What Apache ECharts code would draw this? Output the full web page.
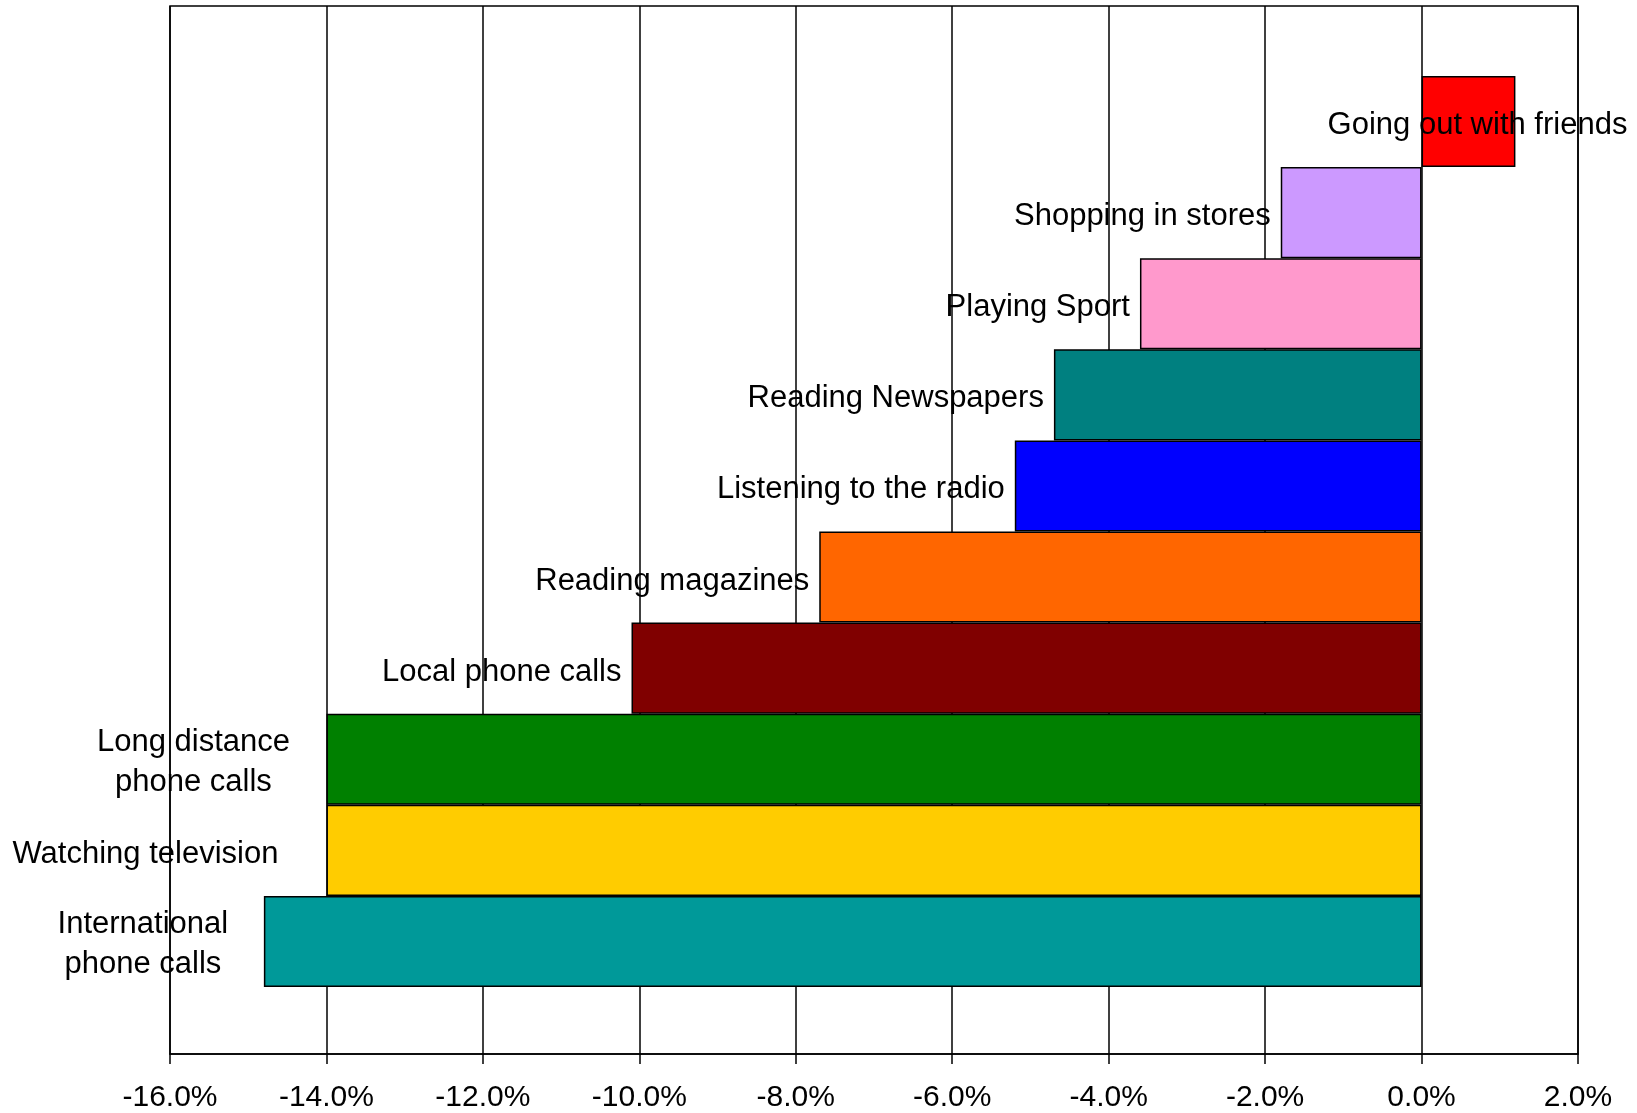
<!DOCTYPE html>
<html>
<head>
<meta charset="utf-8">
<title>Change in time spent on activities</title>
<script src="https://cdn.jsdelivr.net/npm/echarts@6/dist/echarts.min.js"></script>
<style>
  html, body { margin: 0; padding: 0; background: #ffffff; }
  #chart { width: 1637px; height: 1113px; }
</style>
</head>
<body>
<div id="chart"></div>
<script>
// Activities, top to bottom
const categories = [
  'Going out with friends',
  'Shopping in stores',
  'Playing Sport',
  'Reading Newspapers',
  'Listening to the radio',
  'Reading magazines',
  'Local phone calls',
  'Long distance\nphone calls',
  'Watching television',
  'International\nphone calls'
];

// Change in time spent (%)
const changes = [1.2, -1.8, -3.6, -4.7, -5.2, -7.7, -10.1, -14.0, -14.0, -14.8];

const barColors = [
  '#FF0000', '#CC99FF', '#FF99CC', '#008080', '#0000FF',
  '#FF6600', '#800000', '#008000', '#FFCC00', '#009999'
];

// Value axis range and step (percent)
const axisMin = -16;
const axisMax = 2;
const axisStep = 2;

const FONT = '"Liberation Sans", Arial, Helvetica, sans-serif';

// Placement of the category name beside each bar
function labelFor(i) {
  const base = {
    show: true,
    formatter: categories[i],
    color: '#000',
    fontFamily: FONT,
    fontSize: 31,
    lineHeight: 40
  };
  if (changes[i] >= 0) {
    return Object.assign(base, { position: 'inside' });
  }
  const name = categories[i];
  if (name.startsWith('Long distance')) {
    return Object.assign(base, { position: 'left', distance: 133, align: 'center' });
  }
  if (name === 'Watching television') {
    return Object.assign(base, { position: 'left', distance: 181, align: 'center' });
  }
  if (name.startsWith('International')) {
    return Object.assign(base, { position: 'left', distance: 121, align: 'center' });
  }
  return Object.assign(base, { position: 'left', distance: 10 });
}

// Small nudges applied after layout
function labelNudge(params) {
  const i = params.dataIndex;
  const multiLine = categories[i].indexOf('\n') >= 0;
  return {
    dx: changes[i] >= 0 ? 9 : 0,
    dy: multiLine ? 3 : 4,
    hideOverlap: false
  };
}

const seriesData = changes.map((v, i) => ({
  value: v,
  itemStyle: { color: barColors[i] },
  label: labelFor(i)
}));

const chart = echarts.init(document.getElementById('chart'), null, { renderer: 'canvas' });

chart.setOption({
  animation: false,
  backgroundColor: '#ffffff',
  grid: [
    // frame with gridlines and the percentage axis
    { left: 170, right: 59, top: 6, bottom: 59, show: true, borderColor: '#000', borderWidth: 1.5, backgroundColor: 'transparent' },
    // bar band
    { left: 170, right: 59, top: 76, bottom: 126 }
  ],
  xAxis: [
    {
      gridIndex: 0,
      type: 'value',
      min: axisMin,
      max: axisMax,
      interval: axisStep,
      axisLine: { show: true, onZero: false, lineStyle: { color: '#000', width: 1.5 } },
      axisTick: { show: true, inside: false, length: 10, lineStyle: { color: '#000', width: 1.5 } },
      axisLabel: {
        show: true,
        margin: 29,
        color: '#000',
        fontFamily: FONT,
        fontSize: 30,
        formatter: v => v.toFixed(1) + '%'
      },
      splitLine: { show: true, lineStyle: { color: '#000', width: 1.5 } }
    },
    {
      gridIndex: 1,
      type: 'value',
      min: axisMin,
      max: axisMax,
      interval: axisStep,
      show: false,
      splitLine: { show: false }
    }
  ],
  yAxis: [
    { gridIndex: 0, type: 'value', min: 0, max: 1, show: false, splitLine: { show: false } },
    {
      gridIndex: 1,
      type: 'category',
      data: categories,
      inverse: true,
      show: false
    }
  ],
  series: [
    {
      type: 'bar',
      xAxisIndex: 1,
      yAxisIndex: 1,
      data: seriesData,
      barWidth: '100%',
      barCategoryGap: 0,
      itemStyle: { borderColor: '#000', borderWidth: 1.5 },
      labelLayout: labelNudge
    }
  ]
});
</script>
</body>
</html>
